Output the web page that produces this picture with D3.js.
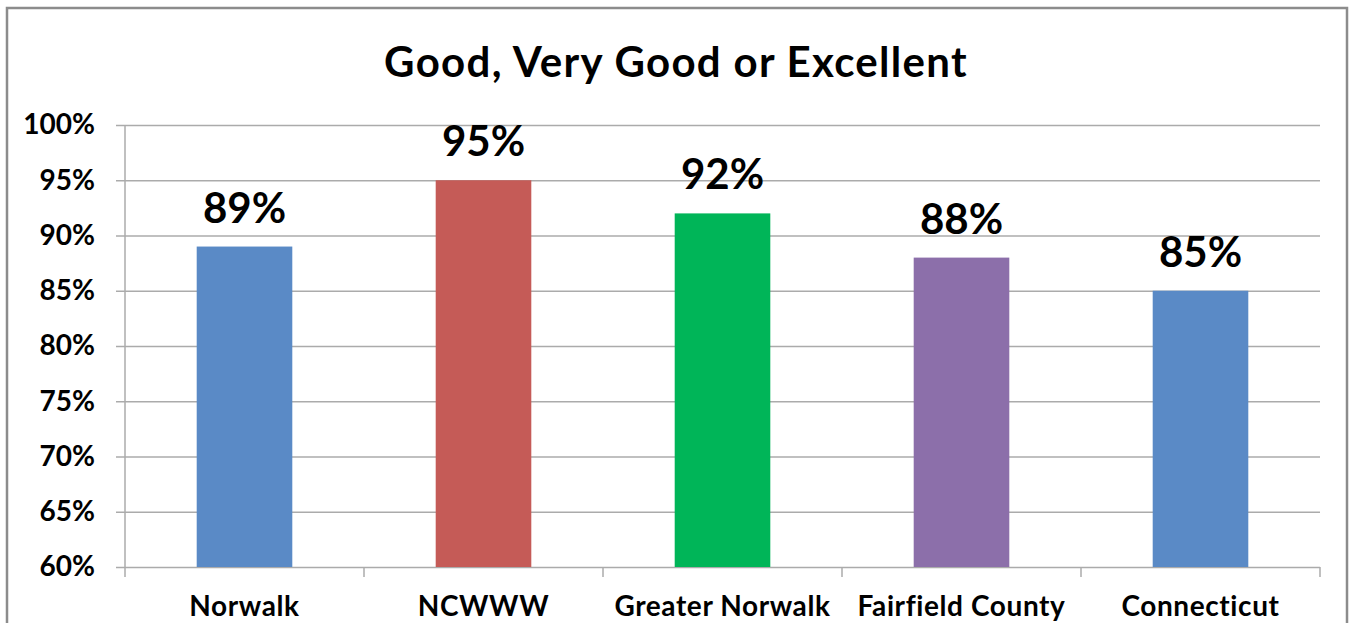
<!DOCTYPE html>
<html>
<head>
<meta charset="utf-8">
<script src="https://cdn.jsdelivr.net/npm/d3@7"></script>
<style>
  html, body { margin: 0; padding: 0; background: #fff; }
  svg { display: block; font-family: Lato, "Open Sans", sans-serif; }
</style>
</head>
<body>
<div id="chart"></div>
<script>
// Chart data
var categories = ["Norwalk", "NCWWW", "Greater Norwalk", "Fairfield County", "Connecticut"];
var values = [89, 95, 92, 88, 85];
var barColors = ["#5A8AC6", "#C55B57", "#00B558", "#8C6FAA", "#5A8AC6"];
var yTicks = [60, 65, 70, 75, 80, 85, 90, 95, 100];
var title = "Good, Very Good or Excellent";

var W = 1351, H = 623;
var plot = { left: 125, right: 1320, top: 125, bottom: 567 };

var svg = d3.select("#chart").append("svg")
  .attr("width", W)
  .attr("height", H);

// Outer frame
svg.append("rect")
  .attr("x", 7).attr("y", 8)
  .attr("width", 1340).attr("height", 640)
  .attr("fill", "#fff")
  .attr("stroke", "#8C8C8C")
  .attr("stroke-width", 2.5);

svg.append("text")
  .attr("x", 676).attr("y", 77)
  .attr("text-anchor", "middle")
  .attr("font-size", 42)
  .attr("font-weight", "bold")
  .attr("letter-spacing", 1.3)
  .attr("fill", "#000")
  .text(title);

var x = d3.scaleBand()
  .domain(categories)
  .range([plot.left, plot.right])
  .paddingInner(0.6)
  .paddingOuter(0.3);

var y = d3.scaleLinear()
  .domain([60, 100])
  .range([plot.bottom, plot.top]);

// ── Grid + y axis ─────────────────────────────
var yAxis = d3.axisLeft(y)
  .tickValues(yTicks)
  .tickSize(plot.right - plot.left + 9)
  .tickPadding(21)
  .tickFormat(function (d) { return d + "%"; });

var gy = svg.append("g")
  .attr("transform", "translate(" + plot.right + ",0)")
  .call(yAxis);
gy.select(".domain").remove();
gy.selectAll(".tick line").attr("stroke", "#ABABAB").attr("stroke-width", 1.5);
gy.selectAll(".tick text")
  .attr("font-size", 28)
  .attr("font-weight", "bold")
  .attr("fill", "#000")
  .attr("font-family", "Lato, sans-serif");

// vertical axis line
svg.append("line")
  .attr("x1", plot.left).attr("x2", plot.left)
  .attr("y1", plot.top).attr("y2", plot.bottom)
  .attr("stroke", "#ABABAB").attr("stroke-width", 1.5);

// ── Category axis ─────────────────────────────
var bounds = categories.map(function (c) { return x(c) - x.step() * x.paddingInner() / 2; });
bounds.push(plot.right);

var gx = svg.append("g");
gx.selectAll(".xtick")
  .data(bounds)
  .join("line")
  .attr("class", "xtick")
  .attr("x1", function (d) { return d; })
  .attr("x2", function (d) { return d; })
  .attr("y1", plot.bottom)
  .attr("y2", plot.bottom + 10)
  .attr("stroke", "#ABABAB").attr("stroke-width", 1.5);

gx.selectAll(".xlab")
  .data(categories)
  .join("text")
  .attr("class", "xlab")
  .attr("x", function (d) { return x(d) + x.bandwidth() / 2; })
  .attr("y", 616)
  .attr("text-anchor", "middle")
  .attr("font-size", 28)
  .attr("font-weight", "bold")
  .attr("letter-spacing", 0.6)
  .attr("fill", "#000")
  .text(function (d) { return d; });

// ── Bars ─────────────────────────────────────
svg.selectAll(".bar")
  .data(values)
  .join("rect")
  .attr("class", "bar")
  .attr("x", function (d, i) { return x(categories[i]); })
  .attr("width", x.bandwidth())
  .attr("y", function (d) { return y(d); })
  .attr("height", function (d) { return y(60) - y(d); })
  .attr("fill", function (d, i) { return barColors[i]; });

// Value labels
svg.selectAll(".val")
  .data(values)
  .join("text")
  .attr("class", "val")
  .attr("x", function (d, i) { return x(categories[i]) + x.bandwidth() / 2; })
  .attr("y", function (d) { return y(d) - 24; })
  .attr("text-anchor", "middle")
  .attr("font-size", 42)
  .attr("font-weight", "bold")
  .attr("fill", "#000")
  .text(function (d) { return d + "%"; });
</script>
</body>
</html>
